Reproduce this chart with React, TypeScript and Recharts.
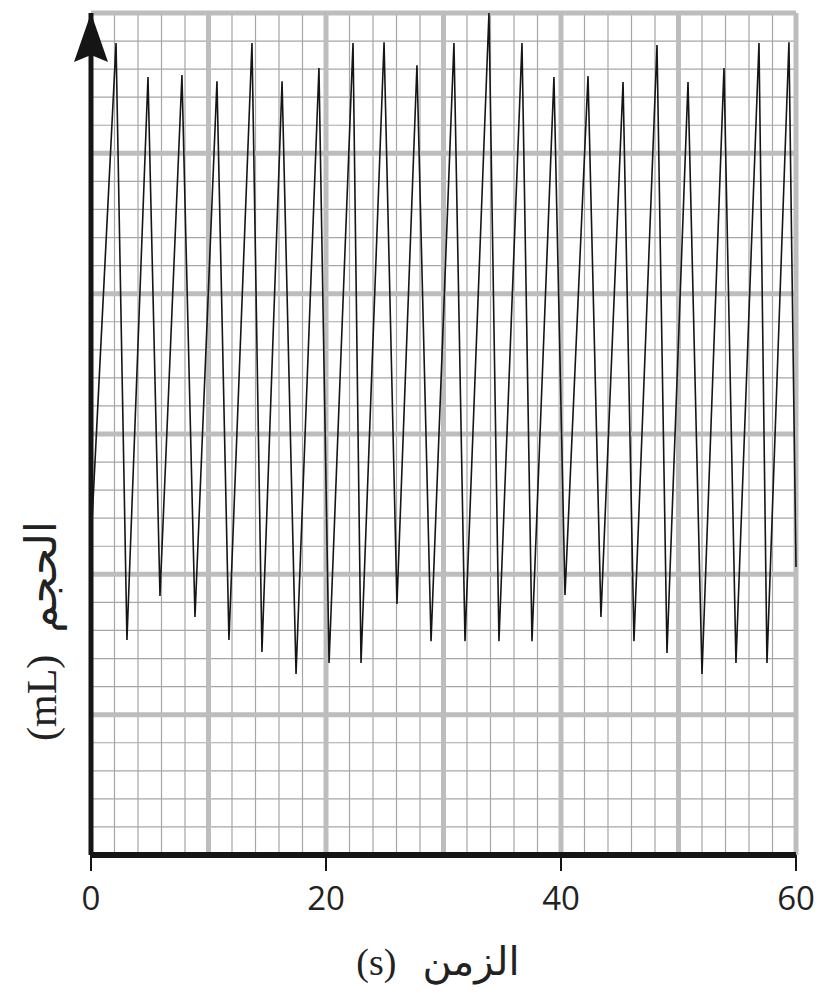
import { Label, Line, LineChart, ReferenceDot, ReferenceLine, XAxis, YAxis } from "recharts";

// time (s) of each corner of the trace
const times = [
  0.1, 2.13, 3.06, 4.85, 5.87, 7.74, 8.85, 10.72, 11.74, 13.7, 14.55, 16.26, 17.45, 19.4, 20.26, 22.3,
  22.98, 24.94, 26.04, 27.74, 28.94, 30.89, 31.83, 33.87, 34.72, 36.68, 37.53, 39.4, 40.34, 42.3, 43.4,
  45.28, 46.21, 48.17, 49.02, 50.81, 52.0, 53.87, 54.89, 56.85, 57.53, 59.4, 60.0,
];
// volume at each corner (grid units)
const volumes = [
  12.0, 28.93, 7.66, 27.72, 9.23, 27.79, 8.48, 27.57, 7.66, 28.93, 7.23, 27.57, 6.45, 28.04, 6.84, 28.93,
  6.84, 28.96, 8.94, 28.14, 7.62, 28.93, 7.62, 30.0, 7.62, 28.93, 7.62, 27.72, 9.26, 27.75, 8.48,
  27.54, 7.62, 28.86, 7.2, 27.54, 6.45, 28.04, 6.84, 28.93, 6.84, 28.96, 10.26,
];

const xTicks = [0, 20, 40, 60];
const xMajor = [0, 10, 20, 30, 40, 50, 60];
const xMinor = [2, 4, 6, 8, 12, 14, 16, 18, 22, 24, 26, 28, 32, 34, 36, 38, 42, 44, 46, 48, 52, 54, 56, 58];
const yMajor = [0, 5, 10, 15, 20, 25, 30];
const yMinor = [1, 2, 3, 4, 6, 7, 8, 9, 11, 12, 13, 14, 16, 17, 18, 19, 21, 22, 23, 24, 26, 27, 28, 29];

const data = times.map((t, i) => ({ t, v: volumes[i] }));

const MINOR = "#a6a6a6";
const MAJOR = "#bdbdbd";
const INK = "#151515";
const SERIF = "'Liberation Serif', 'DejaVu Serif', serif";
const ARABIC = "'DejaVu Sans', sans-serif";

function Arrow(props: any) {
  const { cx, cy } = props;
  return (
    <polygon
      points={`${cx},${cy} ${cx - 17},${cy + 49} ${cx},${cy + 42} ${cx + 17},${cy + 49}`}
      fill={INK}
    />
  );
}

function XTitle() {
  return (
    <text x={438} y={975} textAnchor="middle" fill="#222">
      <tspan fontFamily={SERIF} fontSize={38}>(s)</tspan>
      <tspan fontFamily={ARABIC} fontSize={40} dx={26}>الزمن</tspan>
    </text>
  );
}

function YTitle() {
  return (
    <text x={0} y={0} transform="translate(56, 631) rotate(-90)" textAnchor="middle" fill="#222">
      <tspan fontFamily={SERIF} fontSize={42}>(mL)</tspan>
      <tspan fontFamily={ARABIC} fontSize={44} dx={22}>الحجم</tspan>
    </text>
  );
}

export default function App() {
  return (
    <div style={{ position: "absolute", left: 0, top: 0, width: 821, height: 993, background: "#fff" }}>
      <LineChart width={821} height={993} data={data} margin={{ top: 13, right: 25, bottom: 0, left: 0 }}>
        <XAxis
          dataKey="t"
          type="number"
          domain={[0, 60]}
          ticks={xTicks}
          interval={0}
          axisLine={{ stroke: INK, strokeWidth: 6 }}
          tickLine={{ stroke: INK, strokeWidth: 2 }}
          tickSize={16}
          tickMargin={16}
          tick={{ fontSize: 33, fill: "#222", fontFamily: "'Open Sans', sans-serif" }}
          height={138}
        >
          <Label content={XTitle} />
        </XAxis>
        <YAxis
          type="number"
          domain={[0, 30]}
          ticks={yMajor}
          tick={false}
          tickLine={false}
          axisLine={{ stroke: INK, strokeWidth: 5 }}
          width={91}
        >
          <Label content={YTitle} />
        </YAxis>
        {xMinor.map((x) => (
          <ReferenceLine key={`xm${x}`} x={x} stroke={MINOR} strokeWidth={1.2} />
        ))}
        {yMinor.map((y) => (
          <ReferenceLine key={`ym${y}`} y={y} stroke={MINOR} strokeWidth={1.2} />
        ))}
        {xMajor.slice(1).map((x) => (
          <ReferenceLine key={`xM${x}`} x={x} stroke={MAJOR} strokeWidth={5} />
        ))}
        {yMajor.slice(1).map((y) => (
          <ReferenceLine key={`yM${y}`} y={y} stroke={MAJOR} strokeWidth={5} />
        ))}
        <Line
          type="linear"
          dataKey="v"
          stroke={INK}
          strokeWidth={1.6}
          dot={false}
          activeDot={false}
          isAnimationActive={false}
        />
        <ReferenceDot x={0} y={30} r={0} shape={Arrow} />
      </LineChart>
    </div>
  );
}
